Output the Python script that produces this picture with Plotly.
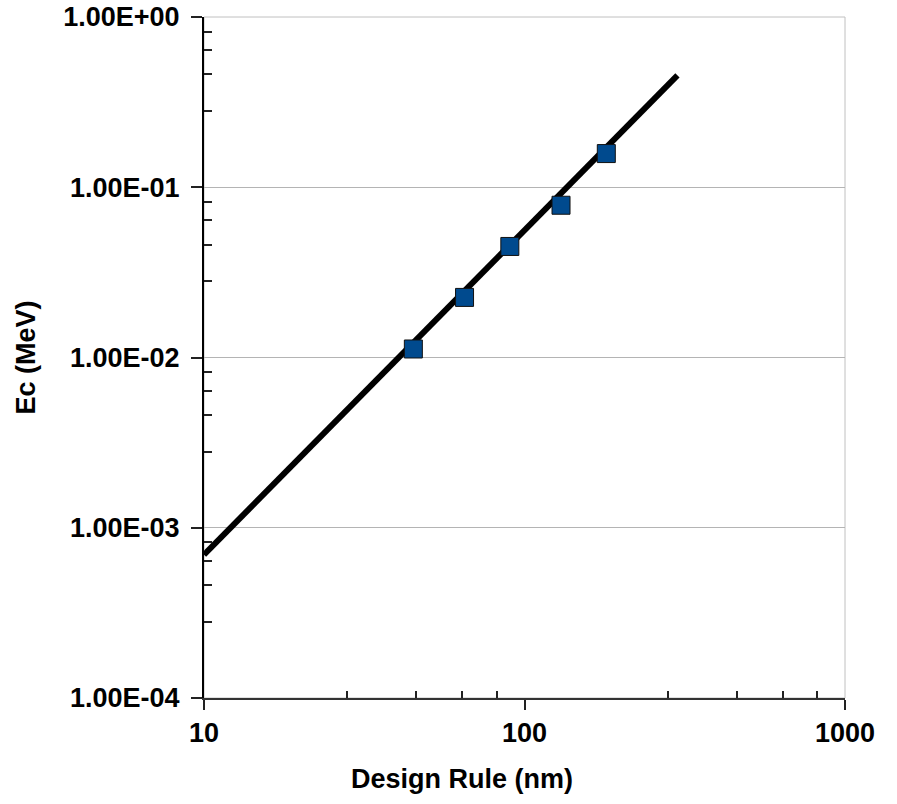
import plotly.graph_objects as go

# Data
design_rule_nm = [45, 65, 90, 130, 180]
ec_mev = [0.01122, 0.02254, 0.0449, 0.0784, 0.1577]

fit_x = [10, 300]
fit_y = [6.95e-4, 0.454]

y_tickvals = [1e-4, 1e-3, 1e-2, 1e-1, 1e0]
y_ticktext = ["1.00E-04", "1.00E-03", "1.00E-02", "1.00E-01", "1.00E+00"]
x_tickvals = [10, 100, 1000]
x_ticktext = ["10", "100", "1000"]

minor_steps = [2.8, 4.6, 6.4, 8.2]
x_minor = [m * d for d in [10, 100] for m in minor_steps]
y_minor = [m * d for d in [1e-4, 1e-3, 1e-2, 1e-1] for m in minor_steps]

FONT = "Liberation Sans, Arial, sans-serif"

fig = go.Figure()
fig.add_trace(go.Scatter(
    x=fit_x, y=fit_y, mode="lines",
    line=dict(color="black", width=6),
    showlegend=False, hoverinfo="skip",
))
fig.add_trace(go.Scatter(
    x=design_rule_nm, y=ec_mev, mode="markers",
    marker=dict(symbol="square", size=18, color="#004A8E",
                line=dict(color="#111111", width=1)),
    showlegend=False,
))

fig.add_shape(type="rect", xref="paper", yref="paper", x0=0, x1=1, y0=0, y1=1,
              line=dict(color="#c0c0c0", width=1), layer="below")

fig.add_annotation(text="<b>Design Rule (nm)</b>", xref="paper", yref="paper",
                   x=0.4025, y=-0.1196, xanchor="center", yanchor="middle",
                   showarrow=False,
                   font=dict(family=FONT, size=27, color="black"))

fig.update_layout(
    width=897, height=804,
    margin=dict(l=204, r=52, t=17, b=106),
    paper_bgcolor="white", plot_bgcolor="white",
    font=dict(family=FONT, color="black"),
    xaxis=dict(
        type="log", range=[1, 3],
        tickmode="array", tickvals=x_tickvals, ticktext=x_ticktext,
        ticks="outside", ticklen=10, tickwidth=2, tickcolor="#222",
        showline=True, linecolor="#333", linewidth=2,
        showgrid=False, zeroline=False,
        tickfont=dict(family=FONT, size=27, color="black", weight="bold"),
        ticklabelstandoff=0,
        minor=dict(tickmode="array", tickvals=x_minor, ticks="inside",
                   ticklen=7, tickwidth=2, tickcolor="#222", showgrid=False),
        automargin=False,
    ),
    yaxis=dict(
        type="log", range=[-4, 0],
        tickmode="array", tickvals=y_tickvals, ticktext=y_ticktext,
        ticks="outside", ticklen=11, tickwidth=2, tickcolor="#222",
        showline=True, linecolor="black", linewidth=2,
        showgrid=True, gridcolor="#b4b4b4", gridwidth=1,
        zeroline=False,
        tickfont=dict(family=FONT, size=27, color="black", weight="bold"),
        ticklabelstandoff=6,
        minor=dict(tickmode="array", tickvals=y_minor, ticks="inside",
                   ticklen=8, tickwidth=2, tickcolor="#222", showgrid=False),
        title=dict(text="<b>Ec (MeV)</b>", standoff=20,
                   font=dict(family=FONT, size=27, color="black")),
        automargin=False,
    ),
)

fig.write_html("out.html")
